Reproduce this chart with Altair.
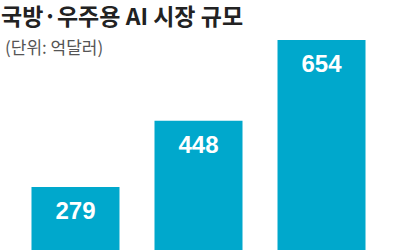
import altair as alt
import pandas as pd

categories = ["1", "2", "3"]
values = [279, 448, 654]
title_text = "국방·우주용 AI 시장 규모"
subtitle_text = "(단위: 억달러)"

df = pd.DataFrame({"cat": categories, "value": values})

xenc = alt.X("cat:N", sort=None, axis=None,
             scale=alt.Scale(paddingInner=0.2846, paddingOuter=0.256))
yscale = alt.Scale(domain=[118.3, 756], zero=False, nice=False)

bars = alt.Chart(df).mark_bar(color="#00a8cc", clip=True).encode(
    x=xenc,
    y=alt.Y("value:Q", axis=None, scale=yscale),
    y2=alt.datum(0),
)

labels = alt.Chart(df).mark_text(
    color="white", fontSize=24, fontWeight="bold", font="Liberation Sans",
    baseline="alphabetic", dy=32,
).encode(
    x=xenc,
    y=alt.Y("value:Q", axis=None, scale=yscale),
    text=alt.Text("value:Q"),
)

title = alt.Chart(pd.DataFrame({"t": [title_text]})).mark_text(
    align="left", baseline="alphabetic", fontSize=23, fontWeight="bold",
    font="Noto Sans CJK KR", color="#222222",
).encode(x=alt.value(1), y=alt.value(25), text="t:N")

subtitle = alt.Chart(pd.DataFrame({"t": [subtitle_text]})).mark_text(
    align="left", baseline="alphabetic", fontSize=17,
    font="Noto Sans CJK KR", color="#555555",
).encode(x=alt.value(5), y=alt.value(54), text="t:N")

chart = alt.layer(bars, labels, title, subtitle).properties(
    width=397, height=250,
    autosize=alt.AutoSizeParams(type="none"),
    padding={"left": 0, "top": 0, "right": 3, "bottom": 0},
).configure_view(stroke=None)

chart.save("out.html", embed_options={"renderer": "svg", "actions": False})
